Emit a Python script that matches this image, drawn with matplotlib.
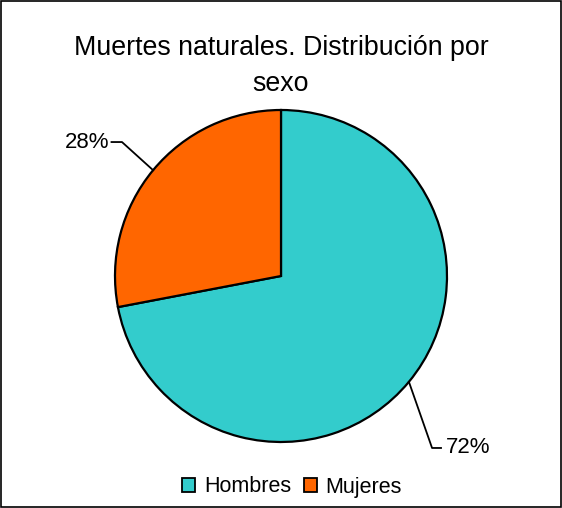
import numpy as np
import matplotlib
matplotlib.use("Agg")
import matplotlib.pyplot as plt
from matplotlib.patches import Rectangle, Patch

plt.rcParams['font.family'] = ['Liberation Sans', 'DejaVu Sans']

# data
categories = ["Hombres", "Mujeres"]
values = [72, 28]
labels = ["72%", "28%"]
colors = ["#33CCCC", "#FF6600"]

fig = plt.figure(figsize=(5.62, 5.08), dpi=100)
fig.patches.append(Rectangle((0.001, 0.001), 0.997, 0.997, transform=fig.transFigure,
                             fill=False, edgecolor="black", linewidth=1.2))

fig.text(0.5, 1 - 66 / 508, "Muertes naturales. Distribución por\nsexo", ha="center",
         va="center", fontsize=19.3, linespacing=1.5)

ax = fig.add_axes([115 / 562, 66 / 508, 332 / 562, 332 / 508])
wedges, _ = ax.pie(values, colors=colors, startangle=90, counterclock=False,
                   wedgeprops=dict(edgecolor="black", linewidth=1.6))
ax.set_aspect("equal")
ax.set_xlim(-1, 1)
ax.set_ylim(-1, 1)
ax.axis("off")

# leader lines and labels (text end, elbow)
label_pos = [((0.994, -1.036), (0.910, -1.036), "left"),
             ((-1.036, 0.807), (-0.958, 0.807), "right")]
for w, lab, (tpos, elbow, ha) in zip(wedges, labels, label_pos):
    mid = np.deg2rad((w.theta1 + w.theta2) / 2)
    edge = (np.cos(mid), np.sin(mid))
    ax.plot([edge[0], elbow[0], tpos[0] - (0.03 if ha == "left" else -0.015)],
            [edge[1], elbow[1], tpos[1]], color="black", linewidth=1.3, clip_on=False)
    ax.text(tpos[0], tpos[1], lab, ha=ha, va="center", fontsize=16)

handles = [Patch(facecolor=c, edgecolor="black", linewidth=1.3) for c in colors]
fig.legend(handles, categories, loc="center", bbox_to_anchor=(292 / 562, 21 / 508), ncol=2,
           frameon=False, fontsize=15.5, handlelength=0.6, handleheight=0.6,
           handletextpad=0.4, columnspacing=0.6)

fig.savefig("out.png", dpi=100)
